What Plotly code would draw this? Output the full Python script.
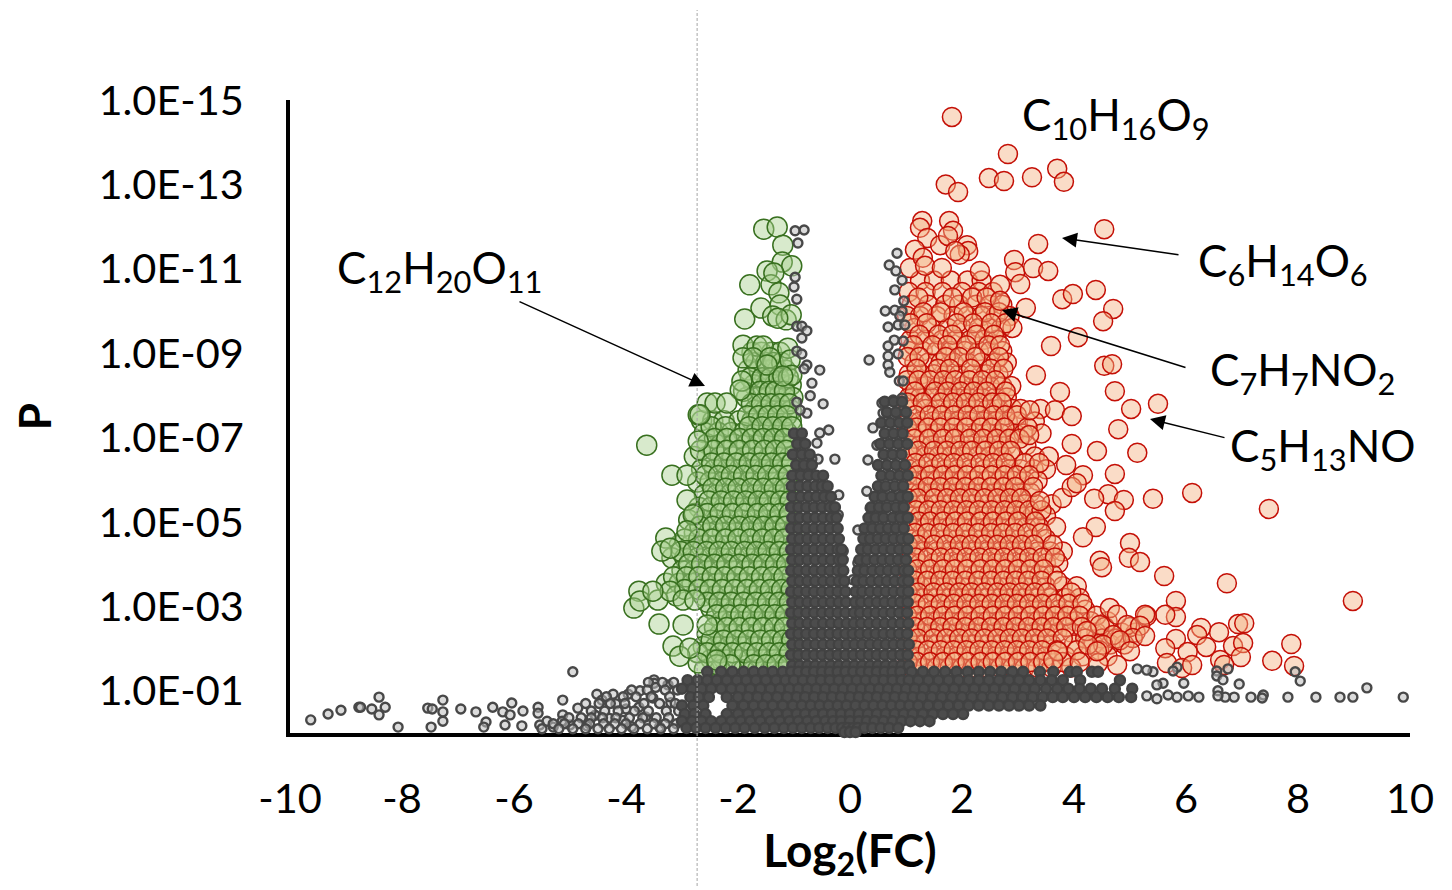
import plotly.graph_objects as go

# Values: x = log2(FC), y = -log10(P)
red_sparse_x = [1.82,2.82,1.71,1.93,2.48,2.75,3.25,3.70,3.82,4.54,3.36,2.93,2.95,3.27,3.54,3.04,3.79,3.98,4.39,4.70,4.52,3.14,4.07,3.59,4.54,4.68,3.32,3.75,4.73,5.02,5.50,3.21,3.66,3.96,4.79,3.96,4.41,5.13,3.2,3.86,4.73,4.16,6.11,5.41,7.48,4.61,4.89,4.36,4.73,3.79,3.96,4.05,3.39,4.39,4.16,5.0,4.98,5.18,4.46,4.5,5.61,6.73,8.98,5.82,5.82,5.63,5.30,6.27,6.59,6.93,7.04,6.2,5.82,6.36,5.63,6.03,6.84,7.02,7.88,7.54,7.93,6.98,6.61,6.68,5.66,5.93,6.11,4.77,4.43,4.64,4.77,5.27,4.46,4.95,5.18,4.23,4.7,5.05,5.27,4.52,4.82,5.0,4.25,4.41,3.71,3.63,1.29,1.25,1.77,1.38,1.61,1.84,1.75,2.09,2.11,1.96,1.88,1.16,1.07,1.3,1.34,1.64,2.32,2.68,2.68]
red_sparse_y = [14.6,13.72,13.0,12.82,13.15,13.08,13.17,13.37,13.06,11.94,11.59,11.21,10.92,11.02,10.95,10.64,10.28,10.40,10.5,10.05,9.76,10.07,9.38,9.17,8.70,8.74,8.48,8.08,8.10,7.68,7.80,7.65,7.65,7.51,7.20,6.85,6.68,6.64,7.06,6.35,6.14,6.11,5.69,5.55,5.31,5.66,5.52,5.55,5.26,5.57,5.83,5.92,5.5,4.88,4.64,4.5,4.15,4.05,4.08,3.93,3.72,3.55,3.13,3.13,2.75,2.8,2.77,2.49,2.39,2.58,2.6,2.32,2.23,2.04,2.01,1.92,2.06,2.13,2.11,1.71,1.59,1.8,1.73,1.61,1.66,1.54,1.61,1.61,1.66,2.96,2.8,2.8,2.56,2.56,2.54,2.42,2.32,2.25,2.3,2.09,2.2,1.94,2.09,1.94,1.94,1.73,12.13,11.97,12.13,11.73,11.56,11.9,11.78,11.56,11.42,11.33,11.42,11.45,11.02,11.26,11.07,11.02,10.95,10.62,10.24]
red_rows = [
 (10.72,[1.25,1.5,1.8,2.1,2.35]),
 (10.45,[1.05,1.35,1.65,2.0,2.3,2.55]),
 (10.15,[1.1,1.4,1.7,1.95,2.25,2.5,2.72]),
 (9.88,[1.02,1.25,1.55,1.85,2.1,2.35,2.6,2.85]),
 (9.6,[1.15,1.45,1.75,2.0,2.3,2.5,2.7,2.9]),
 (9.32,[1.08,1.35,1.65,1.9,2.15,2.4,2.62]),
 (9.05,[1.05,1.3,1.55,1.8,2.05,2.3,2.5,2.72]),
 (8.78,[1.15,1.4,1.62,1.85,2.1,2.35,2.6,2.8]),
 (8.5,[1.05,1.28,1.5,1.72,1.95,2.2,2.42,2.65]),
 (8.22,[1.1,1.35,1.58,1.8,2.02,2.28,2.5,2.72,2.88]),
 (7.95,[1.05,1.25,1.45,1.68,1.9,2.12,2.35,2.6,2.8]),
 (7.68,[1.12,1.35,1.55,1.78,2.0,2.22,2.45,2.65,2.9,3.05,3.4]),
 (7.38,[1.05,1.25,1.48,1.7,1.92,2.15,2.38,2.6,2.82,3.0,3.3]),
 (7.1,[1.1,1.32,1.55,1.78,2.0,2.25,2.48,2.7,2.95,3.1,3.42]),
 (6.82,[1.05,1.25,1.45,1.68,1.9,2.12,2.35,2.58,2.8,3.15]),
 (6.55,[1.12,1.35,1.58,1.8,2.02,2.28,2.5,2.72,2.92,3.3,3.55]),
 (6.25,[1.05,1.25,1.48,1.7,1.92,2.15,2.4,2.62,2.85,3.05,3.28,3.5]),
 (5.98,[1.12,1.35,1.55,1.78,2.0,2.22,2.45,2.68,2.9,3.12,3.35]),
 (5.7,[1.05,1.25,1.45,1.68,1.9,2.12,2.35,2.58,2.8,3.0,3.22]),
 (5.42,[1.1,1.32,1.55,1.78,2.0,2.22,2.45,2.68,2.9,3.12,3.32,3.6]),
 (5.15,[1.05,1.25,1.48,1.7,1.92,2.15,2.38,2.6,2.82,3.05,3.25,3.5]),
 (4.88,[1.12,1.35,1.58,1.8,2.02,2.25,2.48,2.7,2.92,3.15,3.38,3.68]),
 (4.6,[1.05,1.25,1.45,1.68,1.9,2.12,2.35,2.58,2.8,3.02,3.25,3.5]),
 (4.3,[1.1,1.32,1.55,1.78,2.0,2.22,2.45,2.68,2.9,3.12,3.35,3.58,3.8]),
 (4.02,[1.05,1.25,1.48,1.7,1.92,2.15,2.38,2.6,2.82,3.05,3.28,3.5,3.72]),
 (3.75,[1.12,1.35,1.58,1.8,2.02,2.25,2.48,2.7,2.92,3.15,3.38,3.62]),
 (3.48,[1.05,1.25,1.45,1.68,1.9,2.12,2.35,2.58,2.8,3.02,3.25,3.5,3.8,4.05]),
 (3.2,[1.1,1.32,1.55,1.78,2.0,2.22,2.45,2.68,2.9,3.12,3.35,3.58,3.85,4.1]),
 (2.92,[1.05,1.25,1.48,1.7,1.92,2.15,2.38,2.6,2.82,3.05,3.28,3.5,3.72,3.95,4.2]),
 (2.65,[1.12,1.32,1.55,1.78,2.0,2.22,2.45,2.68,2.9,3.12,3.35,3.58,3.8,4.02,4.3,4.6]),
 (2.38,[1.05,1.25,1.45,1.68,1.9,2.12,2.35,2.58,2.8,3.02,3.25,3.48,3.7,3.95,4.4,4.85,5.1]),
 (2.1,[1.1,1.32,1.55,1.78,2.0,2.22,2.45,2.68,2.9,3.12,3.35,3.6,4.0,4.35,4.65,4.9]),
 (1.82,[1.05,1.25,1.48,1.7,1.92,2.15,2.38,2.6,2.82,3.05,3.28,3.5,3.85,4.15,4.6]),
 (1.55,[1.1,1.32,1.55,1.78,2.0,2.22,2.45,2.68,2.9,3.12,3.35,3.6,3.95]),
]
red_extra_rows = [
 (10.32,[1.22,1.83,2.18,2.44]),
 (9.97,[1.31,1.62,2.03,2.41,2.66]),
 (9.71,[1.08,1.37,1.91,2.2,2.78,2.52]),
 (9.44,[1.24,1.58,1.83,2.26,2.57]),
 (9.19,[1.13,1.47,1.74,2.08,2.47,2.68]),
 (8.91,[1.03,1.24,1.71,1.95,2.24,2.66]),
 (8.63,[1.19,1.57,1.78,2.16,2.52,2.74]),
 (8.36,[1.02,1.22,1.43,1.67,1.88,2.13,2.36,2.6]),
 (8.09,[1.16,1.52,1.74,1.98,2.21,2.44,2.78]),
 (7.83,[1.03,1.3,1.62,1.84,2.07,2.29,2.54,2.71]),
 (7.53,[1.17,1.42,1.64,1.86,2.1,2.31,2.56,2.77,2.98]),
 (7.24,[1.02,1.19,1.39,1.61,1.85,2.08,2.34,2.53,2.76,3.17]),
 (6.97,[1.15,1.41,1.66,1.87,2.14,2.38,2.62,2.84,3.03]),
 (6.69,[1.03,1.22,1.5,1.73,1.97,2.18,2.42,2.66,2.87]),
 (6.4,[1.17,1.4,1.63,1.85,2.08,2.33,2.55,2.78,3.12,3.38]),
 (6.11,[1.02,1.2,1.43,1.66,1.87,2.09,2.31,2.53,2.76,2.98,3.2]),
 (5.83,[1.16,1.39,1.61,1.84,2.06,2.29,2.52,2.74,2.95,3.27]),
 (5.56,[1.03,1.21,1.5,1.73,1.96,2.17,2.4,2.63,2.85,3.06]),
 (5.28,[1.18,1.4,1.62,1.85,2.08,2.3,2.53,2.76,2.97,3.2,3.42]),
 (5.01,[1.02,1.23,1.43,1.66,1.88,2.09,2.33,2.55,2.78,3.0,3.31]),
 (4.74,[1.16,1.38,1.61,1.84,2.06,2.29,2.52,2.73,2.95,3.17,3.42]),
 (4.46,[1.03,1.21,1.5,1.72,1.96,2.17,2.4,2.63,2.85,3.07,3.29,3.62]),
 (4.16,[1.17,1.39,1.62,1.85,2.08,2.31,2.53,2.75,2.98,3.2,3.44,3.66]),
 (3.88,[1.02,1.2,1.43,1.66,1.87,2.09,2.33,2.55,2.77,3.0,3.22,3.46]),
 (3.61,[1.16,1.38,1.61,1.83,2.06,2.29,2.52,2.74,2.96,3.18,3.42,3.7]),
 (3.33,[1.03,1.21,1.49,1.72,1.95,2.17,2.4,2.63,2.85,3.07,3.3,3.52,3.95]),
 (3.06,[1.17,1.39,1.62,1.85,2.08,2.31,2.53,2.76,2.98,3.2,3.43,3.67,3.9,4.15]),
 (2.78,[1.02,1.2,1.43,1.66,1.87,2.1,2.33,2.55,2.77,3.0,3.22,3.45,3.66,3.88,4.1,4.4]),
 (2.51,[1.16,1.38,1.61,1.83,2.06,2.29,2.52,2.74,2.96,3.18,3.42,3.63,3.86,4.14,4.55,5.0]),
 (2.24,[1.03,1.21,1.49,1.72,1.95,2.17,2.4,2.63,2.85,3.07,3.3,3.52,3.8,4.2,4.5,4.75]),
 (1.96,[1.17,1.39,1.62,1.85,2.08,2.31,2.53,2.76,2.98,3.2,3.43,3.7,4.05,4.45]),
 (1.68,[1.03,1.2,1.43,1.66,1.87,2.1,2.33,2.55,2.77,3.0,3.22,3.45,3.8,4.1]),
]

green_sparse_x = [-1.54,-1.30,-1.2,-1.21,-1.04,-1.48,-1.79,-1.41,-1.36,-1.27,-1.59,-1.88,-1.25,-1.38,-1.14,-1.05,-1.29,-1.91,-1.66,-1.55,-1.11,-1.91,-1.73,-1.43,-1.07,-1.48,-1.04,-1.2,-1.93,-1.96,-2.55,-2.41,-2.2,-2.71,-3.63,-3.18,-2.91,-2.91,-2.68,-2.71,-2.8,-2.91,-3.29,-3.36,-3.21,-3.77,-3.86,-3.75,-3.43,-3.41,-2.98,-3.21,-2.98,-2.77,-3.52,-3.16,-3.04,-2.71,-2.38,-2.86,-2.55]
green_sparse_y = [11.94,11.99,11.56,11.16,11.07,10.95,10.62,10.62,10.9,10.43,10.07,9.81,10.14,9.88,9.79,9.91,9.83,9.19,9.17,9.17,9.12,8.89,8.89,8.89,8.84,8.72,8.48,8.46,8.34,8.13,7.82,7.82,7.82,7.54,6.82,6.11,6.11,5.52,7.54,6.92,5.17,4.79,4.62,4.31,4.38,3.36,2.96,3.13,3.15,2.58,2.56,3.36,3.15,3.15,3.36,2.06,1.82,1.66,1.73,2.01,2.56]
green_rows = [
 (9.02,[-1.75,-1.58,-1.4,-1.25]),
 (8.6,[-1.82,-1.62,-1.45,-1.3,-1.15]),
 (8.25,[-1.72,-1.5,-1.35,-1.2,-1.05]),
 (7.95,[-1.85,-1.65,-1.48,-1.3,-1.15,-1.02]),
 (7.65,[-1.7,-1.52,-1.35,-1.2,-1.05]),
 (7.4,[-2.65,-2.45,-2.25,-1.98,-1.75,-1.58,-1.4,-1.22,-1.05]),
 (7.12,[-2.6,-2.35,-2.12,-1.9,-1.68,-1.48,-1.3,-1.12]),
 (6.85,[-2.55,-2.3,-2.08,-1.85,-1.62,-1.42,-1.22,-1.04]),
 (6.55,[-2.78,-2.55,-2.32,-2.1,-1.88,-1.65,-1.45,-1.25,-1.08]),
 (6.25,[-2.65,-2.42,-2.2,-1.98,-1.75,-1.55,-1.35,-1.15]),
 (5.95,[-2.72,-2.5,-2.28,-2.05,-1.82,-1.6,-1.4,-1.2,-1.04]),
 (5.65,[-2.6,-2.38,-2.15,-1.92,-1.7,-1.5,-1.3,-1.1]),
 (5.35,[-2.7,-2.48,-2.25,-2.02,-1.8,-1.58,-1.38,-1.18,-1.03]),
 (5.05,[-2.88,-2.62,-2.38,-2.15,-1.92,-1.7,-1.48,-1.28,-1.1]),
 (4.75,[-2.78,-2.52,-2.28,-2.05,-1.82,-1.6,-1.4,-1.2,-1.04]),
 (4.45,[-3.05,-2.85,-2.62,-2.4,-2.18,-1.95,-1.72,-1.5,-1.3,-1.12]),
 (4.15,[-3.18,-2.95,-2.72,-2.5,-2.28,-2.05,-1.82,-1.6,-1.4,-1.2,-1.04]),
 (3.85,[-3.0,-2.78,-2.55,-2.32,-2.1,-1.88,-1.65,-1.45,-1.25,-1.08]),
 (3.55,[-3.28,-3.05,-2.82,-2.6,-2.38,-2.15,-1.92,-1.7,-1.5,-1.3,-1.12]),
 (3.25,[-3.1,-2.62,-2.42,-2.2,-1.98,-1.75,-1.55,-1.35,-1.15]),
 (2.95,[-2.48,-2.28,-2.05,-1.82,-1.6,-1.4,-1.2,-1.04]),
 (2.65,[-2.3,-2.12,-1.9,-1.68,-1.48,-1.28,-1.1]),
 (2.35,[-2.55,-2.32,-2.1,-1.88,-1.65,-1.45,-1.25,-1.08]),
 (2.05,[-2.62,-2.4,-2.18,-1.95,-1.72,-1.5,-1.3,-1.12]),
 (1.75,[-2.48,-2.25,-2.02,-1.8,-1.58,-1.38,-1.18]),
 (1.5,[-2.6,-2.32,-1.9,-1.65,-1.42,-1.2]),
]
green_extra_rows = [
 (8.78,[-1.68,-1.5,-1.37,-1.22]),
 (8.42,[-1.78,-1.57,-1.42,-1.27,-1.1]),
 (8.1,[-1.9,-1.6,-1.44,-1.33,-1.17]),
 (7.8,[-1.76,-1.58,-1.41,-1.25,-1.08]),
 (7.52,[-1.83,-1.63,-1.46,-1.29,-1.13]),
 (7.26,[-2.48,-2.22,-1.8,-1.57,-1.38,-1.2,-1.04]),
 (6.98,[-2.42,-2.2,-1.97,-1.75,-1.55,-1.36,-1.17]),
 (6.7,[-2.67,-2.43,-2.2,-1.98,-1.74,-1.53,-1.33,-1.14]),
 (6.4,[-2.47,-2.25,-2.03,-1.8,-1.6,-1.4,-1.2,-1.04]),
 (6.1,[-2.58,-2.35,-2.12,-1.9,-1.68,-1.47,-1.28,-1.1]),
 (5.8,[-2.45,-2.22,-2.0,-1.76,-1.55,-1.35,-1.15]),
 (5.5,[-2.52,-2.3,-2.08,-1.86,-1.64,-1.44,-1.24,-1.07]),
 (5.2,[-2.78,-2.55,-2.32,-2.1,-1.88,-1.65,-1.45,-1.25,-1.08]),
 (4.9,[-2.68,-2.45,-2.22,-1.98,-1.76,-1.55,-1.34,-1.15]),
 (4.6,[-2.95,-2.7,-2.46,-2.22,-2.0,-1.78,-1.56,-1.36,-1.17]),
 (4.3,[-3.02,-2.8,-2.56,-2.34,-2.12,-1.88,-1.67,-1.46,-1.26,-1.08]),
 (4.0,[-2.88,-2.65,-2.42,-2.2,-1.98,-1.75,-1.54,-1.33,-1.13]),
 (3.7,[-3.15,-2.92,-2.7,-2.46,-2.24,-2.02,-1.8,-1.58,-1.38,-1.18]),
 (3.4,[-2.95,-2.7,-2.5,-2.28,-2.06,-1.84,-1.62,-1.42,-1.22,-1.05]),
 (3.1,[-2.55,-2.34,-2.12,-1.9,-1.68,-1.47,-1.27,-1.08]),
 (2.8,[-2.38,-2.17,-1.95,-1.74,-1.53,-1.34,-1.15]),
 (2.5,[-2.42,-2.2,-1.98,-1.76,-1.55,-1.35,-1.17]),
 (2.2,[-2.48,-2.26,-2.03,-1.82,-1.6,-1.4,-1.2,-1.04]),
 (1.9,[-2.72,-2.55,-2.32,-2.1,-1.88,-1.66,-1.45,-1.26,-1.08]),
 (1.62,[-2.38,-2.14,-1.72,-1.5,-1.3,-1.1]),
]

grey_sparse_x = [-9.63,-9.32,-9.09,-8.77,-8.74,-8.54,-8.41,-8.41,-8.3,-8.07,-7.54,-7.46,-7.48,-7.27,-7.27,-7.27,-6.95,-6.68,-6.38,-6.5,-6.54,-6.2,-6.16,-6.04,-6.07,-5.86,-5.84,-5.57,-5.57,-5.54,-5.41,-5.13,-4.95,-5.13,-5.14,-4.86,-5.0,-4.52,-4.43,-4.23,-4.18,-3.96,-4.0,-3.75,-3.5,-3.5,-3.47,-3.77,-3.52,-3.25,-5.3,-4.7,-4.55,-4.3,-4.05,-3.9,-3.65,-3.4,-3.2,
 9.88,9.23,8.98,8.75,8.32,7.82,8.04,7.95,7.38,7.36,7.16,6.86,6.7,6.57,6.57,6.95,6.75,6.55,6.55,6.66,6.23,6.04,5.96,5.84,5.77,5.84,5.68,5.48,5.59,5.48,5.30,5.41,5.3,5.13,
 -0.98,-0.82,-0.93,-0.98,-1.0,-0.95,-0.95,-0.86,-0.77,-0.86,-0.95,-0.86,-0.77,-0.82,-0.54,-0.68,-0.71,-0.48,-0.95,-0.77,-0.89,-0.38,-0.54,-0.59,-0.27,-0.57,-0.68,-0.77,-0.2,-0.21,-0.12,-0.18,
 0.84,0.7,0.82,0.93,0.8,0.96,0.63,0.8,0.93,0.89,0.68,0.86,0.98,0.79,0.68,0.95,0.86,0.68,0.68,0.71,0.34,0.88,0.95,0.57,0.77,0.93,0.59,0.95,0.75,0.41,0.32,0.48,0.3,0.36,0.14,0.3,0.05,0.14,0.13]
grey_sparse_y = [0.31,0.45,0.54,0.61,0.61,0.57,0.85,0.43,0.61,0.14,0.59,0.57,0.14,0.78,0.5,0.28,0.57,0.5,0.61,0.26,0.14,0.5,0.19,0.71,0.43,0.17,0.52,0.61,0.47,0.19,0.28,0.78,1.45,0.43,0.28,0.59,0.19,0.92,0.78,0.92,0.69,0.92,0.57,1.0,1.26,1.18,1.08,0.61,0.83,1.14,0.14,0.17,0.42,0.35,0.3,0.15,0.38,0.14,0.72,
 0.85,1.07,0.85,0.85,0.85,0.85,1.23,1.45,0.9,0.83,0.85,0.85,0.85,1.0,0.88,1.16,1.52,1.47,1.35,1.26,0.85,0.88,1.18,1.56,1.47,0.85,0.9,0.81,1.18,1.14,0.88,1.45,1.49,1.52,
 11.9,11.92,11.61,10.8,10.57,10.28,9.64,9.64,9.53,9.36,9.05,8.98,8.72,8.63,8.6,8.29,7.99,7.8,7.84,7.58,7.65,7.18,7.11,6.87,6.49,6.49,6.49,6.21,5.64,5.17,4.31,3.91,
 11.37,11.09,10.95,10.73,10.5,10.24,10.0,10.02,10.0,9.88,9.62,9.67,9.67,9.31,9.17,9.29,8.98,8.93,8.72,8.55,8.84,8.34,8.34,7.82,7.89,7.94,7.58,7.65,7.51,7.23,6.47,6.82,5.73,5.33,4.81,4.79,3.63,4.03,3.03]
grey_band_rows = [
 (1.2,[-3.6,-3.35,-3.15]),
 (1.02,[-3.9,-3.62,-3.3,-3.08]),
 (0.86,[-4.35,-4.05,-3.82,-3.55,-3.22]),
 (0.7,[-4.72,-4.48,-4.28,-4.02,-3.68,-3.4,-3.12]),
 (0.52,[-4.62,-4.38,-4.14,-3.85,-3.6,-3.28,-3.06]),
 (0.36,[-5.02,-4.8,-4.62,-4.42,-4.18,-3.94,-3.7,-3.46,-3.24]),
 (0.22,[-5.3,-5.1,-4.85,-4.65,-4.4,-4.2,-4.0,-3.75,-3.5,-3.3,-3.1]),
 (0.1,[-5.5,-5.2,-4.95,-4.72,-4.5,-4.3,-4.08,-3.86,-3.62,-3.38,-3.15]),
]
grey_rows = [
 (7.85,[0.62,0.78,0.93]),
 (7.6,[0.66,0.82,1.0]),
 (7.35,[0.56,0.72,0.88,1.02]),
 (7.1,[-1.0,-0.86,0.62,0.78,0.94]),
 (6.85,[-0.94,-0.8,0.54,0.7,0.86,1.02]),
 (6.6,[-1.02,-0.86,-0.72,0.6,0.76,0.92]),
 (6.35,[-0.96,-0.82,-0.68,0.5,0.66,0.82,0.98]),
 (6.1,[-1.03,-0.88,-0.74,-0.6,-0.48,0.56,0.72,0.88,1.03]),
 (5.85,[-1.04,-0.9,-0.76,-0.62,-0.5,-0.4,0.5,0.64,0.8,0.95]),
 (5.6,[-1.03,-0.88,-0.74,-0.6,-0.46,-0.34,0.44,0.58,0.74,0.9,1.03]),
 (5.35,[-1.05,-0.92,-0.78,-0.64,-0.5,-0.36,-0.27,0.38,0.52,0.66,0.82,0.96]),
 (5.1,[-1.03,-0.9,-0.76,-0.62,-0.48,-0.34,-0.24,0.33,0.46,0.6,0.76,0.9,1.03]),
 (4.85,[-1.05,-0.92,-0.78,-0.64,-0.5,-0.36,-0.22,0.26,0.4,0.54,0.68,0.82,0.96]),
 (4.6,[-1.03,-0.9,-0.76,-0.62,-0.48,-0.34,-0.2,0.24,0.36,0.5,0.64,0.78,0.92,1.04]),
 (4.35,[-1.05,-0.92,-0.78,-0.64,-0.5,-0.36,-0.22,-0.15,0.2,0.32,0.46,0.6,0.74,0.88,1.02]),
 (4.1,[-1.03,-0.9,-0.76,-0.62,-0.48,-0.34,-0.2,-0.13,0.17,0.3,0.44,0.58,0.72,0.86,1.0]),
 (3.85,[-1.05,-0.92,-0.78,-0.64,-0.5,-0.36,-0.22,-0.12,0.14,0.26,0.4,0.54,0.68,0.82,0.96,1.04]),
 (3.6,[-1.03,-0.9,-0.76,-0.62,-0.48,-0.34,-0.2,-0.1,0.12,0.24,0.38,0.52,0.66,0.8,0.94,1.04]),
 (3.35,[-1.05,-0.92,-0.78,-0.64,-0.5,-0.36,-0.22,-0.08,0.1,0.22,0.36,0.5,0.64,0.78,0.92,1.04]),
 (3.1,[-1.03,-0.9,-0.76,-0.62,-0.48,-0.34,-0.2,-0.07,0.09,0.2,0.34,0.48,0.62,0.76,0.9,1.03]),
 (2.85,[-1.05,-0.92,-0.78,-0.64,-0.5,-0.36,-0.22,-0.08,0.07,0.18,0.32,0.46,0.6,0.74,0.88,1.02]),
 (2.6,[-1.03,-0.9,-0.76,-0.62,-0.48,-0.34,-0.2,-0.06,0.07,0.2,0.34,0.48,0.62,0.76,0.9,1.04]),
 (2.35,[-1.05,-0.92,-0.78,-0.64,-0.5,-0.36,-0.22,-0.08,0.05,0.18,0.32,0.46,0.6,0.74,0.88,1.02]),
 (2.1,[-1.03,-0.9,-0.76,-0.62,-0.48,-0.34,-0.2,-0.06,0.08,0.22,0.36,0.5,0.64,0.78,0.92,1.05]),
 (1.85,[-1.05,-0.92,-0.78,-0.64,-0.5,-0.36,-0.22,-0.08,0.06,0.2,0.34,0.48,0.62,0.76,0.9,1.03]),
 (1.6,[-1.03,-0.9,-0.76,-0.62,-0.48,-0.34,-0.2,-0.06,0.08,0.22,0.36,0.5,0.64,0.78,0.92,1.05]),
 (1.45,[-2.55,-2.3,-2.1,-1.9,-1.72,-1.55,-1.38,-1.2,-1.05,-0.92,-0.78,-0.64,-0.5,-0.36,-0.22,-0.08,0.06,0.2,0.34,0.48,0.62,0.76,0.9,1.1,1.3,1.5,1.7,1.9,2.1,2.3,2.5,2.7,2.9,3.09,3.39,3.63,3.93,4.05,4.32,4.43]),
 (1.25,[-2.9,-2.72,-2.55,-2.38,-2.2,-2.02,-1.85,-1.68,-1.5,-1.32,-1.15,-1.0,-0.84,-0.68,-0.52,-0.36,-0.2,-0.04,0.12,0.28,0.44,0.6,0.76,0.92,1.05,1.22,1.4,1.58,1.76,1.94,2.12,2.3,2.48,2.66,2.84,3.02,3.2,3.4,3.6,3.8,4.11,4.82]),
 (1.05,[-3.0,-2.82,-2.65,-2.48,-2.3,-2.12,-1.95,-1.78,-1.6,-1.42,-1.25,-1.08,-0.92,-0.76,-0.6,-0.44,-0.28,-0.12,0.04,0.2,0.36,0.52,0.68,0.84,1.0,1.16,1.32,1.5,1.68,1.86,2.04,2.22,2.4,2.58,2.76,2.94,3.12,3.3,3.5,3.7,3.9,4.1,4.3,4.5,4.73,5.04]),
 (0.85,[-2.85,-2.7,-2.52,-2.2,-2.0,-1.82,-1.65,-1.48,-1.3,-1.12,-0.95,-0.8,-0.64,-0.48,-0.32,-0.16,0.0,0.16,0.32,0.48,0.64,0.8,0.96,1.12,1.28,1.46,1.64,1.82,2.0,2.18,2.36,2.54,2.72,2.9,3.08,3.26,3.44,3.62,3.8,4.0,4.2,4.4,4.6,4.8,5.02]),
 (0.65,[-3.0,-2.8,-2.62,-2.1,-1.9,-1.72,-1.55,-1.38,-1.2,-1.02,-0.86,-0.7,-0.54,-0.38,-0.22,-0.06,0.1,0.26,0.42,0.58,0.74,0.9,1.06,1.22,1.4,1.58,1.76,1.94,2.12,2.3,2.48,2.66,2.84,3.02,3.2,3.4]),
 (0.45,[-2.95,-2.78,-2.58,-2.2,-2.0,-1.82,-1.65,-1.48,-1.3,-1.12,-0.95,-0.8,-0.64,-0.48,-0.32,-0.16,0.0,0.16,0.32,0.48,0.64,0.8,0.96,1.12,1.3,1.48,1.66,1.84,2.02]),
 (0.28,[-3.0,-2.82,-2.65,-2.48,-2.3,-2.12,-1.95,-1.78,-1.6,-1.42,-1.25,-1.08,-0.92,-0.76,-0.6,-0.44,-0.3,-0.16,0.0,0.16,0.3,0.44,0.6,0.76,0.92,1.08,1.25,1.42]),
 (0.12,[-2.92,-2.75,-2.58,-2.4,-2.22,-2.05,-1.88,-1.7,-1.52,-1.35,-1.18,-1.02,-0.86,-0.7,-0.55,-0.4,-0.26,-0.14,-0.04,0.06,0.14,0.26,0.4,0.55,0.7,0.86]),
 (0.02,[-0.1,0.0,0.1]),
]

y_tick_vals = [1,3,5,7,9,11,13,15]
y_tick_text = ["1.0E-01","1.0E-03","1.0E-05","1.0E-07","1.0E-09","1.0E-11","1.0E-13","1.0E-15"]
x_tick_vals = [-10,-8,-6,-4,-2,0,2,4,6,8,10]
x_tick_text = ["-10","-8","-6","-4","-2","0","2","4","6","8","10"]
threshold_x = -2.73

def flat(rows):
    xs, ys = [], []
    for y, row in rows:
        xs += row
        ys += [y] * len(row)
    return xs, ys

FONT = "Lato, Carlito, 'Open Sans', sans-serif"
OX, OY = 8, 10            # the page offsets the figure by this much
W, H = 1444, 880
L, R, T, B = 290 - OX, 1410 - OX, 102 - OY, 735 - OY
def px(x): return (x - OX - L) / (R - L)
def py(y): return (B - (y - OY)) / (B - T)

fig = go.Figure()
rx, ry = flat(red_rows)
ex, ey = flat(red_extra_rows)
fig.add_trace(go.Scatter(x=rx + ex + red_sparse_x, y=ry + ey + red_sparse_y, mode="markers", cliponaxis=False,
    marker=dict(size=19, color="rgba(244,177,131,0.45)", line=dict(color="#c40f06", width=1.5))))
gx, gy = flat(green_rows)
hx, hy = flat(green_extra_rows)
fig.add_trace(go.Scatter(x=gx + hx + green_sparse_x, y=gy + hy + green_sparse_y, mode="markers", cliponaxis=False,
    marker=dict(size=20, color="rgba(169,209,142,0.45)", line=dict(color="#38701f", width=1.5))))
bx, by = flat(grey_band_rows)
fig.add_trace(go.Scatter(x=grey_sparse_x + bx, y=grey_sparse_y + by, mode="markers", cliponaxis=False,
    marker=dict(size=9, color="rgba(190,190,190,0.55)", line=dict(color="#484848", width=2.4))))
kx, ky = flat(grey_rows)
fig.add_trace(go.Scatter(x=kx, y=ky, mode="markers", cliponaxis=False,
    marker=dict(size=10, color="#4c4c4c", line=dict(color="#424242", width=2.4))))

fig.add_shape(type="line", xref="x", yref="paper", x0=threshold_x, x1=threshold_x,
              y0=py(888), y1=py(12), line=dict(color="#a6a6a6", width=1, dash="3px,2px"), layer="above")

labels = [("C<sub>10</sub>H<sub>16</sub>O<sub>9</sub>", 1020, 120),
          ("C<sub>12</sub>H<sub>20</sub>O<sub>11</sub>", 335, 272),
          ("C<sub>6</sub>H<sub>14</sub>O<sub>6</sub>", 1196, 265),
          ("C<sub>7</sub>H<sub>7</sub>NO<sub>2</sub>", 1208, 374),
          ("C<sub>5</sub>H<sub>13</sub>NO", 1228, 450)]
for text, x, y in labels:
    fig.add_annotation(text=text, xref="paper", yref="paper", x=px(x), y=py(y), xanchor="left", yanchor="middle",
                       showarrow=False, font=dict(family=FONT, size=44, color="#000"))
arrows = [((518, 303), (705, 388)), ((1180, 257), (1062, 240)), ((1187, 370), (1002, 312)), ((1226, 440), (1150, 421))]
for tail, head in arrows:
    fig.add_annotation(text="", xref="paper", yref="paper", x=px(head[0]), y=py(head[1]),
                       axref="pixel", ayref="pixel", ax=tail[0] - head[0], ay=tail[1] - head[1],
                       showarrow=True, arrowhead=2, arrowsize=2, arrowwidth=1.5, arrowcolor="#000")

fig.update_layout(width=W, height=H, showlegend=False, paper_bgcolor="white", plot_bgcolor="white",
    margin=dict(l=L, r=W - R, t=T, b=H - B, autoexpand=False),
    font=dict(family=FONT, color="#000"),
    xaxis=dict(range=[-10, 10], tickvals=x_tick_vals, ticktext=x_tick_text, showgrid=False, zeroline=False,
               showline=True, linecolor="#000", linewidth=3.5, ticks="", layer="below traces",
               tickfont=dict(size=41.5, family=FONT), ticklabelstandoff=26,
               title=dict(text="<b>Log<sub>2</sub>(FC)</b>", font=dict(size=46, family=FONT), standoff=6)),
    yaxis=dict(range=[0, 15], tickvals=y_tick_vals, ticktext=y_tick_text, showgrid=False, zeroline=False,
               showline=True, linecolor="#000", linewidth=3.5, ticks="", layer="below traces",
               tickfont=dict(size=41.5, family=FONT), ticklabelstandoff=34,
               title=dict(text="<b>P</b>", font=dict(size=44, family=FONT), standoff=38)),
)
fig.write_html("out.html")
